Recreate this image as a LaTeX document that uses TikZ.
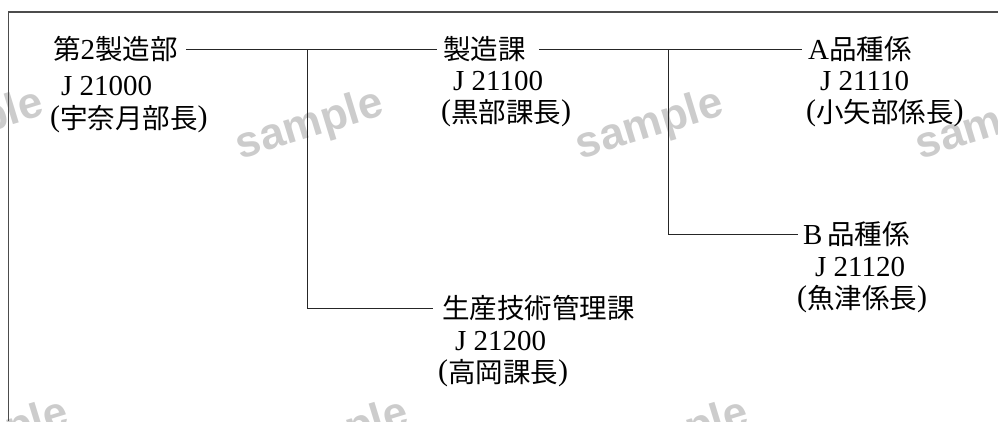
\documentclass[tikz,border=0pt]{standalone}
\usepackage{fontspec}
\setmainfont{Liberation Serif}
\newfontfamily\jpfont{Noto Sans CJK JP}
\newfontfamily\wmfont{Liberation Sans}
\newcommand\lat[1]{{\rmfamily\fontsize{29}{31}\selectfont #1}}
\newcommand\lp{\raisebox{2.5pt}{\rmfamily\fontsize{30}{31}\selectfont(}}
\newcommand\rp{\raisebox{2.5pt}{\rmfamily\fontsize{30}{31}\selectfont)}}
\begin{document}
\begin{tikzpicture}[x=1pt,y=-1pt,
  unitline/.style={anchor=west, inner sep=0pt, font=\jpfont\fontsize{27.5}{31}\selectfont},
  titlebox/.style={unitline, text height=24.2pt, text depth=3.3pt},
  conn/.style={line width=0.9pt, draw=black!85},
  frame/.style={line width=1.6pt, draw=black!70},
  wm/.style={font=\wmfont\bfseries\fontsize{44}{44}\selectfont, text=black!20, rotate=17, inner sep=0pt}]
\useasboundingbox (0,0) rectangle (998,421);
\clip (0,0) rectangle (998,421);
% watermarks
\node[wm] (w1) at (-30,126) {sample};
\node[wm] (w2) at (310,126) {sample};
\node[wm] (w3) at (650,126) {sample};
\node[wm] (w4) at (990,126) {sample};
\node[wm] (w5) at (-5,436) {sample};
\node[wm] (w6) at (335,436) {sample};
\node[wm] (w7) at (675,436) {sample};
% frame
\draw[frame] (8.5,421) -- (8.5,12) -- (998,12);
% units
\node[titlebox] (bu) at (53,49) {第\lat{2}製造部};
\node[unitline] (bucode) at (61,86) {\lat{J 21000}};
\node[unitline] (buhead) at (50,119) {\lp 宇奈月部長\rp};

\node[titlebox] (ka) at (443,49) {製造課};
\node[unitline] (kacode) at (453,81) {\lat{J 21100}};
\node[unitline] (kahead) at (441,113) {\lp 黒部課長\rp};

\node[titlebox] (ga) at (808,49) {\lat{A}品種係};
\node[unitline] (gacode) at (820,81) {\lat{J 21110}};
\node[unitline] (gahead) at (806,113) {\lp 小矢部係長\rp};

\node[titlebox] (gb) at (803,234) {\lat{B}\,品種係};
\node[unitline] (gbcode) at (815,267) {\lat{J 21120}};
\node[unitline] (gbhead) at (797,299) {\lp 魚津係長\rp};

\node[titlebox] (gi) at (442,308) {生産技術管理課};
\node[unitline] (gicode) at (455,341) {\lat{J 21200}};
\node[unitline] (gihead) at (438,373) {\lp 高岡課長\rp};
% connectors
\coordinate (j1) at (307,49);
\coordinate (j2) at (668,49);
\draw[conn] ([xshift=8pt]bu.east) -- ([xshift=-6pt]ka.west);
\draw[conn] (j1) |- ([xshift=-9pt]gi.west);
\draw[conn] ([xshift=13pt]ka.east) -- ([xshift=-6pt]ga.west);
\draw[conn] (j2) |- ([xshift=-5pt]gb.west);
\end{tikzpicture}
\end{document}
